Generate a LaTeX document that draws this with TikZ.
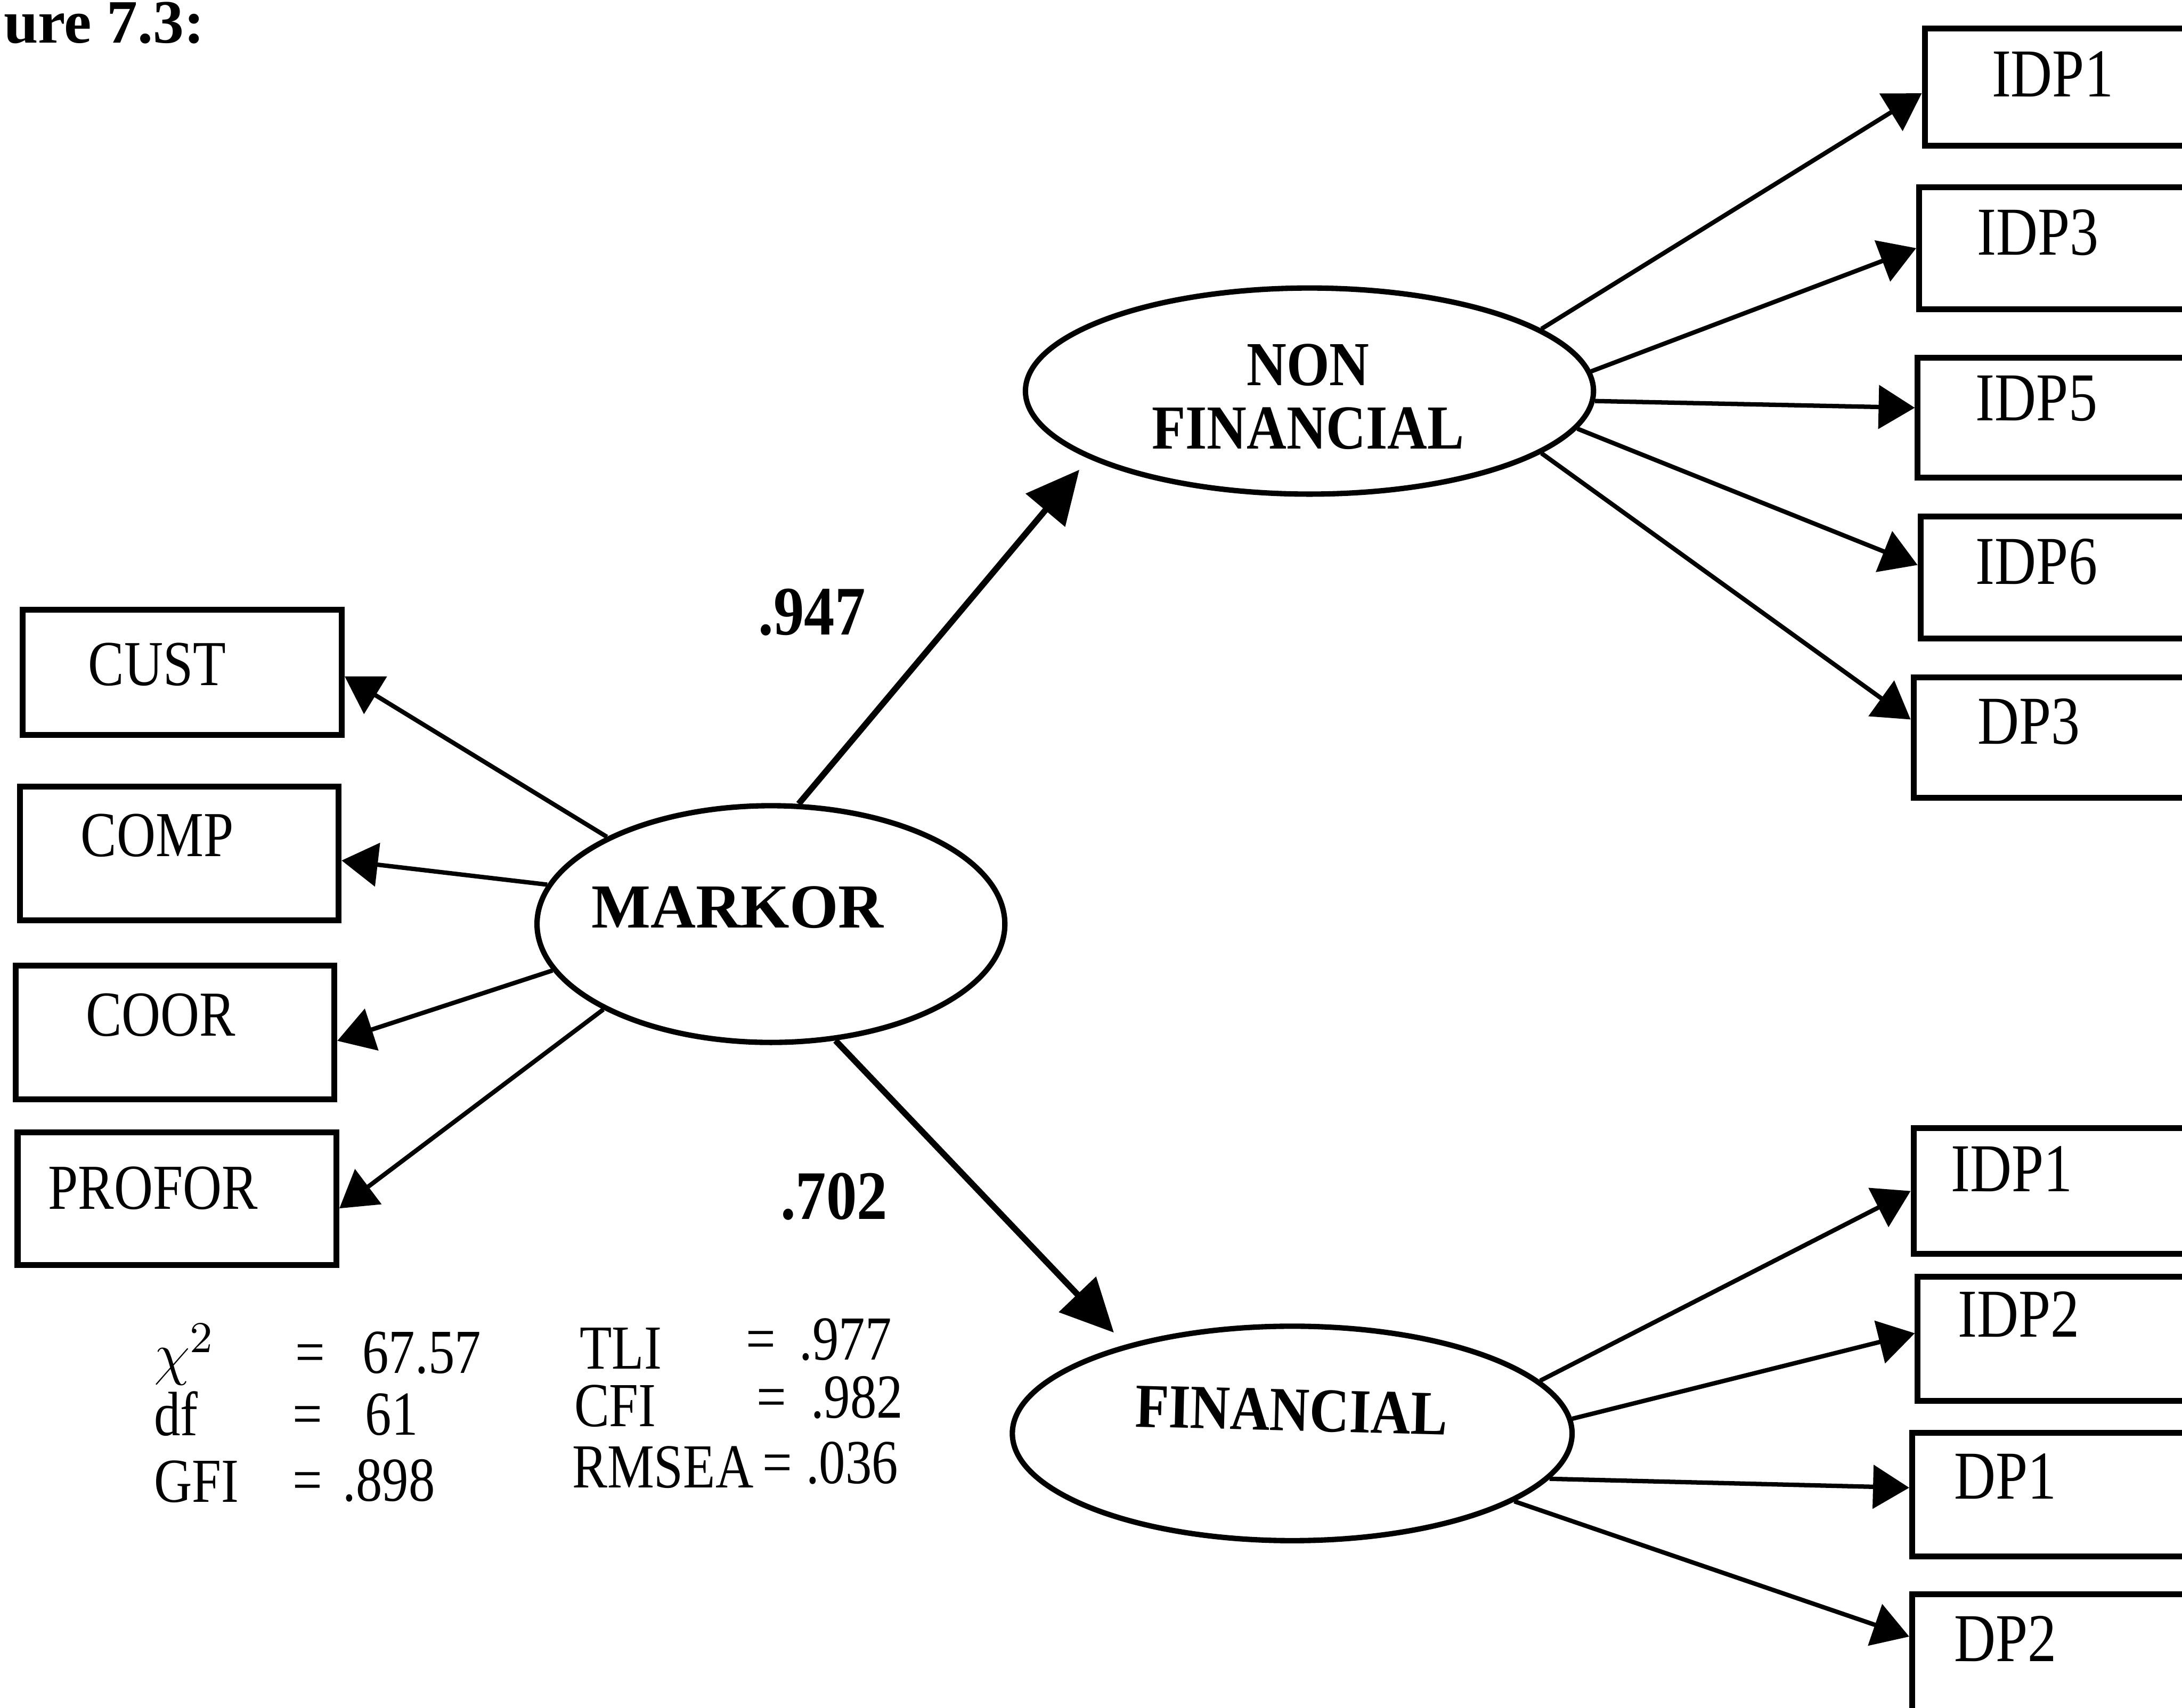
\documentclass[tikz,border=0pt]{standalone}
\usepackage{fontspec}
\setmainfont{Liberation Serif}
\newfontfamily\obsfont{Liberation Serif}[FakeStretch=0.84]
\newfontfamily\latfont{Liberation Serif}[FakeStretch=0.88]
\usetikzlibrary{arrows.meta,shapes.geometric}
\tikzset{
  obs/.style     = {draw, line width=1.2pt, minimum width=22.9mm, inner sep=0pt},
  obsr/.style    = {obs, anchor=west, minimum width=21mm},
  lat/.style     = {draw, ellipse, line width=1.1pt, inner sep=0pt},
  obslbl/.style  = {inner sep=0pt, font=\obsfont\fontsize{13.1}{15}\selectfont},
  obslblr/.style = {inner sep=0pt, font=\obsfont\fontsize{14}{16}\selectfont},
  latlbl/.style  = {inner sep=0pt, align=center, font=\latfont\bfseries\fontsize{12.8}{12.9}\selectfont},
  coef/.style    = {inner sep=0pt, font=\latfont\bfseries\fontsize{14.2}{16}\selectfont},
  gof/.style     = {inner sep=0pt, anchor=base west, font=\obsfont\fontsize{12.8}{15}\selectfont},
  load/.style    = {-{Triangle[length=2.6mm, width=3.1mm]}, line width=0.9pt},
  reg/.style     = {-{Triangle[length=3.8mm, width=3.6mm]}, line width=1.25pt},
}

\begin{document}
\begin{tikzpicture}[x=0.01cm, y=-0.01cm]
  \useasboundingbox (0,0) rectangle (1568,1227);
  \node[inner sep=0pt, anchor=base west, font=\bfseries\fontsize{12.6}{14}\selectfont] (cap) at (2,31) {ure 7.3:};

  % latent variables
  \node[lat, minimum width=33.6mm, minimum height=17mm] (markor) at (554,664) {};
  \node[latlbl, font=\bfseries\fontsize{12.8}{12.9}\selectfont] (markorl) at (530,652) {MARKOR};
  \node[lat, minimum width=40.8mm, minimum height=14.8mm] (nonfin) at (941,281) {};
  \node[latlbl] (nonfinl) at (940,285) {NON\\FINANCIAL};
  \node[lat, minimum width=40.2mm, minimum height=15.4mm] (fin) at (928.6,1030) {};
  \node[latlbl, rotate=-1.5] (finl) at (928,1013.5) {FINANCIAL};

  % indicators of MARKOR
  \node[obs, minimum height=9mm] (cust) at (131,483) {};
  \node[obslbl] (custl) at (113,477.5) {CUST};
  \node[obs, minimum height=9.6mm] (comp) at (128.8,613.3) {};
  \node[obslbl] (compl) at (113,600.3) {COMP};
  \node[obs, minimum height=9.6mm] (coor) at (125.7,741.9) {};
  \node[obslbl] (coorl) at (115.5,729.5) {COOR};
  \node[obs, minimum height=9.5mm] (profor) at (127.2,861.3) {};
  \node[obslbl] (proforl) at (110,853.8) {PROFOR};

  % indicators of NON FINANCIAL
  \node[obsr, minimum height=8.4mm] (idpa) at (1381,62.5) {};
  \node[obslblr] (idpal) at (1475,53.3) {IDP1};
  \node[obsr, minimum height=8.75mm] (idpc) at (1377,178.3) {};
  \node[obslblr] (idpcl) at (1464.5,167) {IDP3};
  \node[obsr, minimum height=8.6mm] (idpe) at (1376,300) {};
  \node[obslblr] (idpel) at (1463.5,286.4) {IDP5};
  \node[obsr, minimum height=8.75mm] (idpf) at (1378,415) {};
  \node[obslblr] (idpfl) at (1463.5,403.7) {IDP6};
  \node[obsr, minimum height=8.65mm] (dpc) at (1373,530) {};
  \node[obslblr] (dpcl) at (1457.8,518.5) {DP3};

  % indicators of FINANCIAL
  \node[obsr, minimum height=9.05mm] (idpb) at (1373,855.8) {};
  \node[obslblr] (idpbl) at (1445.7,840) {IDP1};
  \node[obsr, minimum height=8.9mm] (idpd) at (1376,962) {};
  \node[obslblr] (idpdl) at (1450.6,944.6) {IDP2};
  \node[obsr, minimum height=8.9mm] (dpa) at (1372,1074) {};
  \node[obslblr] (dpal) at (1441,1061) {DP1};
  \node[obsr, minimum height=8.9mm] (dpb) at (1372,1190) {};
  \node[obslblr] (dpbl) at (1441,1177.5) {DP2};

  \node[coef] (bnon) at (583.5,440) {.947};
  \node[coef] (bfin) at (599.3,860) {.702};

  \draw[reg, shorten >=1.05mm] (markor.77) -- (nonfin.197);
  \draw[reg, shorten >=1.2mm] (markor.299) -- (fin.152);

  \draw[load] (markor.152) -- ([yshift=-0.3mm]cust.east);
  \draw[load] (markor.170.5) -- ([yshift=-0.5mm]comp.east);
  \draw[load] (markor.192.3) -- ([yshift=-0.6mm]coor.east);
  \draw[load] (markor.207.7) -- ([yshift=-0.7mm]profor.east);

  \draw[load] (nonfin.15.1) -- ([yshift=-0.45mm]idpa.west);
  \draw[load] (nonfin.4.8) -- (idpc.west);
  \draw[load] (nonfin.-2) -- ([yshift=0.7mm]idpe.west);
  \draw[load] (nonfin.-8.8) -- ([yshift=0.9mm]idpf.west);
  \draw[load] (nonfin.-15.3) -- ([yshift=1.3mm]dpc.west);

  \draw[load] (fin.12.1) -- (idpb.west);
  \draw[load] (fin.3.5) -- ([yshift=0.4mm]idpd.west);
  \draw[load] (fin.-10.4) -- ([yshift=0.5mm]dpa.west);
  \draw[load] (fin.-17.1) -- ([yshift=1.4mm]dpb.west);

  % fit indices
  \node[gof] (chi) at (110,987) {$\chi^{2}$};
  \node[gof] (chiv) at (211.5,986.6) {=\hspace{2.7mm}67.57};
  \node[gof] (df) at (110,1031.5) {df};
  \node[gof] (dfv) at (209.5,1031) {=\hspace{3.1mm}61};
  \node[gof] (gfi) at (110,1079.5) {GFI};
  \node[gof] (gfiv) at (209.5,1078.5) {=\hspace{1.5mm}.898};
  \node[gof] (tli) at (416,983.7) {TLI};
  \node[gof] (tliv) at (535.5,977) {=\hspace{1.7mm}.977};
  \node[gof] (cfi) at (412,1025) {CFI};
  \node[gof] (cfiv) at (543.2,1019) {=\hspace{1.75mm}.982};
  \node[gof] (rmsea) at (410.5,1069) {RMSEA};
  \node[gof] (rmseav) at (547.2,1066) {=\hspace{1mm}.036};
\end{tikzpicture}
\end{document}
